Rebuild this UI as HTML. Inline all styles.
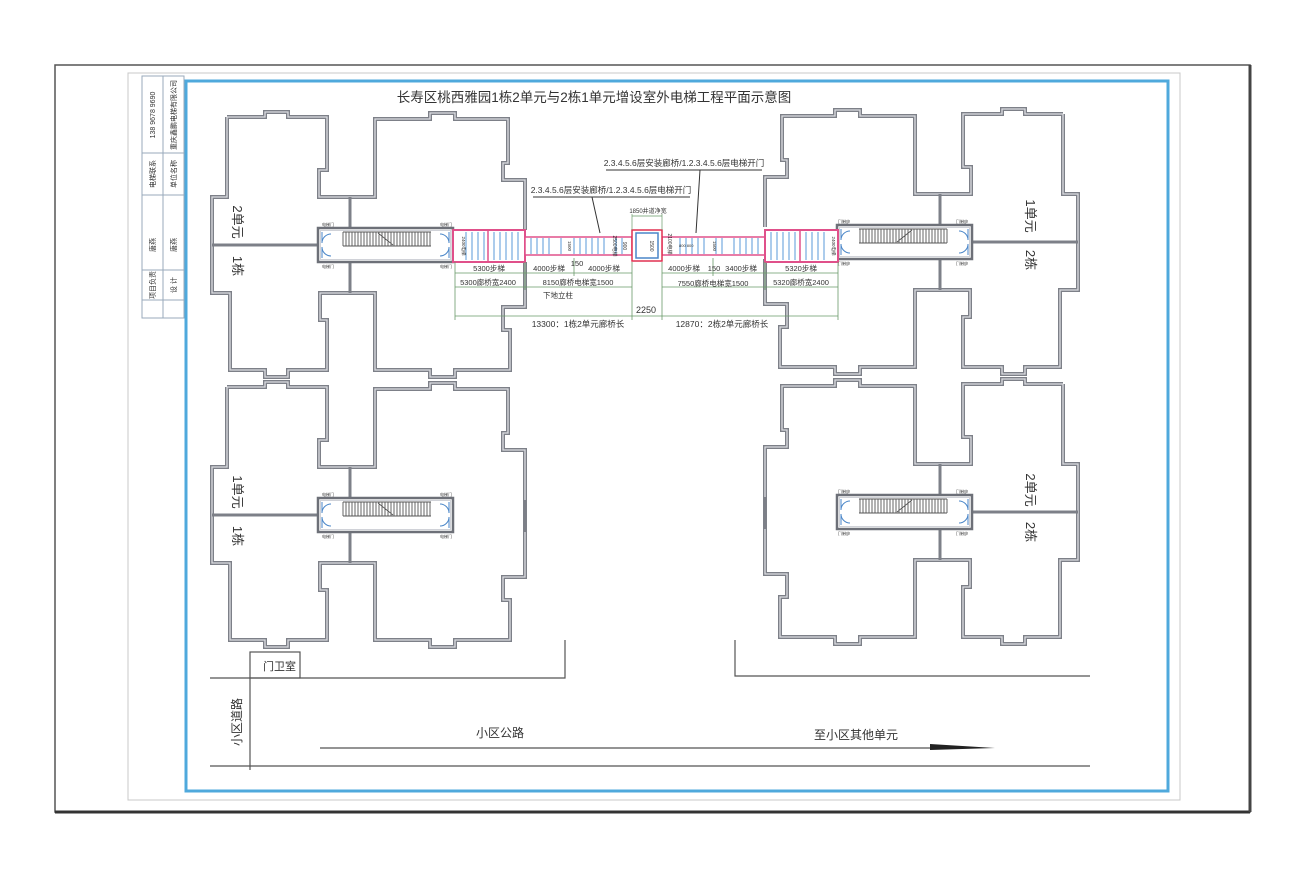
<!DOCTYPE html>
<html><head><meta charset="utf-8"><style>
html,body{margin:0;padding:0;background:#fff;}
svg{display:block;}
text{font-family:"Liberation Sans","Noto Sans CJK SC",sans-serif;fill:#333;}
</style></head><body>
<svg width="1308" height="878" viewBox="0 0 1308 878" xmlns="http://www.w3.org/2000/svg">
<defs>
<g id="unit">
  <path d="M227,117 H265 V112 H288 V117 H327 V170 H319 V197 H375 V119 H430 V113 H455 V119 H508 V163 H503 V180 H525 V230 M525,262 V307 H503 V330 H510 V370 H455 V377 H430 V370 H375 V293 H320 V320 H327 V370 H288 V377 H265 V370 H230 V293 H212 V197 H227 V117" fill="none" stroke="#7d8088" stroke-width="4"/>
  <path d="M227,117 H265 V112 H288 V117 H327 V170 H319 V197 H375 V119 H430 V113 H455 V119 H508 V163 H503 V180 H525 V230 M525,262 V307 H503 V330 H510 V370 H455 V377 H430 V370 H375 V293 H320 V320 H327 V370 H288 V377 H265 V370 H230 V293 H212 V197 H227 V117" fill="none" stroke="#dcdde2" stroke-width="1.3"/>
  <path d="M350,197 V228 M350,262 V293 M212,245 H318" stroke="#7d8088" stroke-width="3" fill="none"/>
  <rect x="318" y="228" width="135" height="34" fill="#fff" stroke="#6d7078" stroke-width="2.5"/>
  <rect x="320.5" y="230.5" width="130" height="29" fill="none" stroke="#d0d2d8" stroke-width="1"/>
  <path d="M343,232 V246 M346,232 V246 M349,232 V246 M352,232 V246 M355,232 V246 M358,232 V246 M361,232 V246 M364,232 V246 M367,232 V246 M370,232 V246 M373,232 V246 M376,232 V246 M379,232 V246 M382,232 V246 M385,232 V246 M388,232 V246 M391,232 V246 M394,232 V246 M397,232 V246 M400,232 V246 M403,232 V246 M406,232 V246 M409,232 V246 M412,232 V246 M415,232 V246 M418,232 V246 M421,232 V246 M424,232 V246 M427,232 V246 M430,232 V246 M343,232 H431 M343,246 H431 M378,233 L393,245" stroke="#555" stroke-width="0.9" fill="none"/>
  <path d="M322,232 V243 A9,9 0 0 1 331,234 M322,258 V247 A9,9 0 0 0 331,256 M449,232 V243 A9,9 0 0 0 440,234 M449,258 V247 A9,9 0 0 1 440,256" stroke="#4a86c8" stroke-width="1" fill="none"/>
  <text x="322" y="226" font-size="4">电梯门</text><text x="322" y="268" font-size="4">电梯门</text>
  <text x="440" y="226" font-size="4">电梯门</text><text x="440" y="268" font-size="4">电梯门</text>
</g>
</defs>

<!-- paper -->
<rect x="55" y="65" width="1195" height="747" fill="#fff" stroke="#555" stroke-width="1.5"/>
<line x1="55" y1="812" x2="1250" y2="812" stroke="#333" stroke-width="3"/>
<line x1="1250" y1="65" x2="1250" y2="812" stroke="#444" stroke-width="3"/>
<rect x="128" y="73" width="1052" height="727" fill="none" stroke="#c8c8c8" stroke-width="1"/>
<rect x="186" y="81" width="982" height="710" fill="none" stroke="#4fa9dc" stroke-width="3"/>

<!-- title block -->
<g stroke="#9ab" stroke-width="1" fill="none">
<rect x="142" y="76" width="42" height="242"/>
<line x1="163" y1="76" x2="163" y2="318"/>
<line x1="142" y1="153" x2="184" y2="153"/>
<line x1="142" y1="195" x2="184" y2="195"/>
<line x1="142" y1="270" x2="184" y2="270"/>
<line x1="142" y1="300" x2="184" y2="300"/>
</g>
<g font-size="7">
<text transform="translate(155,115) rotate(-90)" text-anchor="middle">138 9678 9690</text>
<text transform="translate(176,115) rotate(-90)" text-anchor="middle">重庆鑫鹏电梯有限公司</text>
<text transform="translate(155,174) rotate(-90)" text-anchor="middle">电梯联系</text>
<text transform="translate(176,174) rotate(-90)" text-anchor="middle">单位名称</text>
<text transform="translate(155,245) rotate(-90)" text-anchor="middle">唐燕</text>
<text transform="translate(176,245) rotate(-90)" text-anchor="middle">唐燕</text>
<text transform="translate(155,285) rotate(-90)" text-anchor="middle">项目负责</text>
<text transform="translate(176,285) rotate(-90)" text-anchor="middle">设 计</text>
</g>

<text x="594" y="102" font-size="13.5" text-anchor="middle" fill="#222">长寿区桃西雅园1栋2单元与2栋1单元增设室外电梯工程平面示意图</text>

<!-- buildings -->
<use href="#unit"/>
<use href="#unit" transform="translate(0,270)"/>
<line x1="525" y1="500" x2="525" y2="532" stroke="#7d8088" stroke-width="4"/>
<use href="#unit" transform="matrix(-1,0,0,1,1290,-3)"/>
<use href="#unit" transform="matrix(-1,0,0,1,1290,267)"/>
<line x1="765" y1="497" x2="765" y2="529" stroke="#7d8088" stroke-width="4"/>

<g font-size="13" fill="#444">
<text transform="translate(233,222) rotate(90)" text-anchor="middle">2单元</text>
<text transform="translate(233,266) rotate(90)" text-anchor="middle">1栋</text>
<text transform="translate(233,492) rotate(90)" text-anchor="middle">1单元</text>
<text transform="translate(233,536) rotate(90)" text-anchor="middle">1栋</text>
<text transform="translate(1026,216) rotate(90)" text-anchor="middle">1单元</text>
<text transform="translate(1026,260) rotate(90)" text-anchor="middle">2栋</text>
<text transform="translate(1026,490) rotate(90)" text-anchor="middle">2单元</text>
<text transform="translate(1026,532) rotate(90)" text-anchor="middle">2栋</text>
</g>

<!-- bridge -->
<g fill="#fff">
<rect x="453" y="230" width="72" height="32" stroke="#e0508a" stroke-width="2"/>
<rect x="525" y="237" width="107" height="18" stroke="#e0508a" stroke-width="1.5"/>
<rect x="662" y="237" width="103" height="18" stroke="#e0508a" stroke-width="1.5"/>
<rect x="765" y="230" width="73" height="32" stroke="#e0508a" stroke-width="2"/>
<rect x="632" y="230" width="30" height="31" stroke="#e03050" stroke-width="1.5"/>
<rect x="636" y="233" width="22" height="25" stroke="#4a86c8" stroke-width="1.5"/>
</g>
<line x1="488" y1="230" x2="488" y2="262" stroke="#e0508a" stroke-width="1.5"/>
<line x1="800" y1="230" x2="800" y2="262" stroke="#e0508a" stroke-width="1.5"/>
<g stroke="#5a9ad8" stroke-width="1">
<path d="M466,232 V260 M472,232 V260 M478,232 V260 M484,232 V260 M494,232 V260 M500,232 V260 M506,232 V260 M512,232 V260 M518,232 V260"/>
<path d="M531,238 V254 M537,238 V254 M543,238 V254 M549,238 V254 M561,238 V254 M574,238 V254 M580,238 V254 M586,238 V254 M592,238 V254 M598,238 V254 M604,238 V254 M616,238 V254 M622,238 V254"/>
<path d="M680,238 V254 M686,238 V254 M692,238 V254 M698,238 V254 M704,238 V254 M716,238 V254 M722,238 V254 M734,238 V254 M740,238 V254 M746,238 V254 M752,238 V254 M758,238 V254"/>
<path d="M771,232 V260 M777,232 V260 M783,232 V260 M789,232 V260 M795,232 V260 M806,232 V260 M812,232 V260 M818,232 V260 M824,232 V260"/>
</g>
<g font-size="4.5" fill="#222">
<rect x="457" y="236" width="6" height="20" fill="#fff"/><text transform="translate(462,246) rotate(90)" text-anchor="middle">2400电梯</text>
<rect x="563" y="240" width="6" height="12" fill="#fff"/><text transform="translate(568,246) rotate(90)" text-anchor="middle">1500</text>
<rect x="708" y="240" width="6" height="12" fill="#fff"/><text transform="translate(713,246) rotate(90)" text-anchor="middle">1500</text>
<rect x="827" y="236" width="6" height="20" fill="#fff"/><text transform="translate(832,246) rotate(90)" text-anchor="middle">2400电梯</text>
<text transform="translate(650,246) rotate(90)" text-anchor="middle" font-size="5">1500</text>
<text transform="translate(623,246) rotate(90)" text-anchor="middle" font-size="5">900</text>
<text transform="translate(613,246) rotate(90)" text-anchor="middle" font-size="5">2500电梯</text>
<text transform="translate(668,244) rotate(90)" text-anchor="middle" font-size="5">2100电梯</text>
<text x="679" y="247" font-size="4">800 800</text>
</g>

<!-- annotations -->
<g stroke="#333" stroke-width="1" fill="none">
<path d="M606,170 H762 M700,170 L696,233"/>
<path d="M533,197 H690 M592,197 L600,233"/>
<path d="M632,216 H662 M632,214 V230 M662,214 V230" stroke="#6a9a6a" stroke-width="0.7"/>
</g>
<g font-size="8.5">
<text x="684" y="166" text-anchor="middle">2.3.4.5.6层安装廊桥/1.2.3.4.5.6层电梯开门</text>
<text x="611" y="193" text-anchor="middle">2.3.4.5.6层安装廊桥/1.2.3.4.5.6层电梯开门</text>
<text x="648" y="213" text-anchor="middle" font-size="6">1850井道净宽</text>
</g>

<!-- dimensions -->
<g stroke="#6a9a6a" stroke-width="0.8" fill="none">
<path d="M455,273 H632 M662,273 H838 M455,287 H632 M662,287 H838 M455,316 H838"/>
<path d="M455,262 V320 M525,262 V290 M632,262 V320 M662,262 V320 M765,262 V290 M838,262 V320 M574,258 V276 M713,258 V276"/>
</g>
<g font-size="7.5" text-anchor="middle">
<text x="489" y="271">5300步梯</text>
<text x="549" y="271">4000步梯</text>
<text x="577" y="266">150</text>
<text x="604" y="271">4000步梯</text>
<text x="684" y="271">4000步梯</text>
<text x="714" y="271">150</text>
<text x="741" y="271">3400步梯</text>
<text x="801" y="271">5320步梯</text>
<text x="488" y="285">5300廊桥宽2400</text>
<text x="578" y="285">8150廊桥电梯宽1500</text>
<text x="713" y="286">7550廊桥电梯宽1500</text>
<text x="801" y="285">5320廊桥宽2400</text>
<text x="558" y="298">下地立柱</text>
<text x="646" y="313" font-size="9">2250</text>
<text x="578" y="327" font-size="8.5">13300：1栋2单元廊桥长</text>
<text x="722" y="327" font-size="8.5">12870：2栋2单元廊桥长</text>
</g>

<!-- site -->
<g stroke="#555" stroke-width="1.2" fill="none">
<rect x="250" y="652" width="50" height="26"/>
<path d="M210,678 H565 V640"/>
<path d="M250,678 V770"/>
<path d="M735,640 V676 H1090"/>
<path d="M320,748 H935"/>
<path d="M210,766 H1090"/>
</g>
<polygon points="930,744 995,748 930,750" fill="#222"/>
<g font-size="12" fill="#333">
<text x="263" y="670" font-size="11">门卫室</text>
<text transform="translate(241,722) rotate(-90)" text-anchor="middle">小区道路</text>
<text x="500" y="737" text-anchor="middle">小区公路</text>
<text x="856" y="739" text-anchor="middle">至小区其他单元</text>
</g>
</svg>
</body></html>
